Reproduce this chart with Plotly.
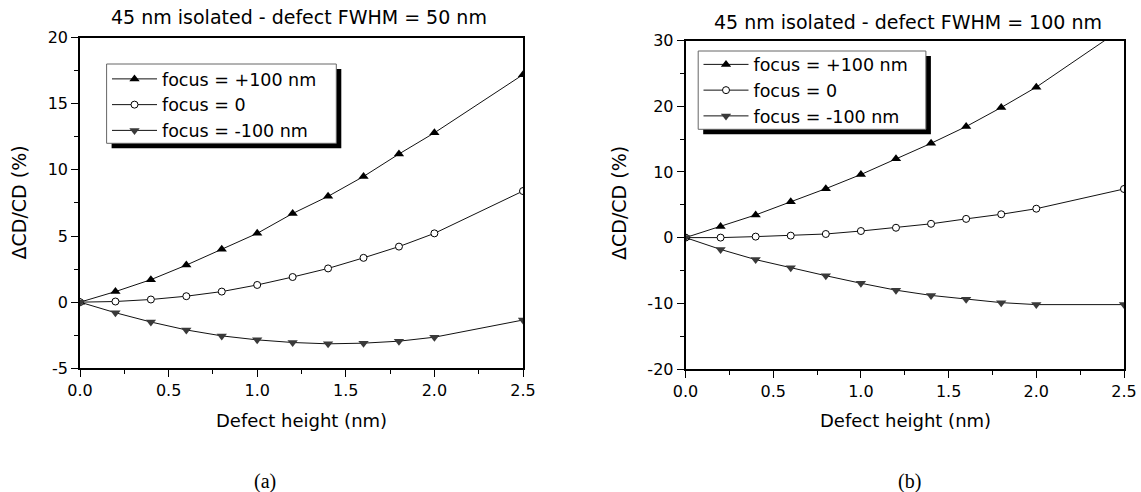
import plotly.graph_objects as go

# ---------------- data ----------------
heights = [0.0, 0.2, 0.4, 0.6, 0.8, 1.0, 1.2, 1.4, 1.6, 1.8, 2.0, 2.5]

a_plus = [0, 0.8, 1.7, 2.8, 4.0, 5.2, 6.7, 8.0, 9.5, 11.2, 12.8, 17.2]
a_zero = [0, 0.05, 0.2, 0.45, 0.8, 1.3, 1.9, 2.55, 3.35, 4.2, 5.2, 8.4]
a_minus = [0, -0.8, -1.5, -2.1, -2.55, -2.85, -3.05, -3.15, -3.1, -2.95, -2.65, -1.35]

b_plus = [0, 1.7, 3.45, 5.45, 7.45, 9.6, 12.0, 14.35, 16.9, 19.8, 22.9, 32.0]
b_zero = [0, 0.0, 0.15, 0.3, 0.55, 1.0, 1.5, 2.1, 2.85, 3.55, 4.4, 7.4]
b_minus = [0, -1.8, -3.35, -4.6, -5.8, -6.95, -8.0, -8.8, -9.4, -9.9, -10.2, -10.2]

series_names = ["focus = +100 nm", "focus = 0", "focus = -100 nm"]

x_tickvals = [0.0, 0.5, 1.0, 1.5, 2.0, 2.5]
x_ticktext = ["0.0", "0.5", "1.0", "1.5", "2.0", "2.5"]
ya_tickvals = [-5, 0, 5, 10, 15, 20]
ya_ticktext = ["-5", "0", "5", "10", "15", "20"]
yb_tickvals = [-20, -10, 0, 10, 20, 30]
yb_ticktext = ["-20", "-10", "0", "10", "20", "30"]

titles = ["45 nm isolated - defect FWHM = 50 nm", "45 nm isolated - defect FWHM = 100 nm"]
x_title = "Defect height (nm)"
y_title = "\u0394CD/CD (%)"
panel_labels = ["(a)", "(b)"]

# ---------------- figure ----------------
W, H = 1141, 492
SANS = "DejaVu Sans"
DOWN_COLOR = "#3a3a3a"

def px(x):
    return x / W

def py(y):
    return 1 - y / H

styles = [
    dict(symbol="triangle-up", size=9, color="black", line=dict(color="black", width=0)),
    dict(symbol="circle", size=7, color="white", line=dict(color="black", width=1)),
    dict(symbol="triangle-down", size=9, color=DOWN_COLOR, line=dict(color=DOWN_COLOR, width=0)),
]

fig = go.Figure()
for panel, (ys, xa, ya, lg) in enumerate([
    ([a_plus, a_zero, a_minus], "x", "y", "legend"),
    ([b_plus, b_zero, b_minus], "x2", "y2", "legend2"),
]):
    for name, yv, st in zip(series_names, ys, styles):
        fig.add_trace(go.Scatter(
            x=heights, y=yv, name=name, mode="lines+markers",
            line=dict(color="#111111", width=1),
            marker=st, xaxis=xa, yaxis=ya, legend=lg,
        ))

axis_common = dict(
    showgrid=False, zeroline=False, showline=True, linecolor="black", linewidth=1.6,
    mirror=True, ticks="outside", ticklen=7, tickwidth=1.2, tickcolor="black",
    tickfont=dict(family=SANS, size=16, color="black"), automargin=False,
)

legend_font = dict(family=SANS, size=17.5, color="black")

fig.update_layout(
    width=W, height=H, margin=dict(l=0, r=0, t=0, b=0),
    paper_bgcolor="white", plot_bgcolor="white", showlegend=True,
    xaxis=dict(domain=[px(80), px(523)], range=[0, 2.5], anchor="y",
               tickvals=x_tickvals, ticktext=x_ticktext,
               minor=dict(ticks="outside", ticklen=4, dtick=0.25, tickcolor="black", tickwidth=1),
               **axis_common),
    yaxis=dict(domain=[py(368.3), py(37.6)], range=[-5, 20], anchor="x",
               tickvals=ya_tickvals, ticktext=ya_ticktext,
               minor=dict(ticks="outside", ticklen=4, dtick=2.5, tickcolor="black", tickwidth=1),
               **axis_common),
    xaxis2=dict(domain=[px(685.5), px(1124)], range=[0, 2.5], anchor="y2",
                tickvals=x_tickvals, ticktext=x_ticktext,
                minor=dict(ticks="outside", ticklen=4, dtick=0.25, tickcolor="black", tickwidth=1),
                **axis_common),
    yaxis2=dict(domain=[py(369), py(40.5)], range=[-20, 30], anchor="x2",
                tickvals=yb_tickvals, ticktext=yb_ticktext,
                minor=dict(ticks="outside", ticklen=4, dtick=5, tickcolor="black", tickwidth=1),
                **axis_common),
    legend=dict(x=px(107), y=py(61), xanchor="left", yanchor="top",
                bgcolor="rgba(0,0,0,0)", borderwidth=0, itemwidth=45, tracegroupgap=0,
                font=legend_font),
    legend2=dict(x=px(698.5), y=py(46.5), xanchor="left", yanchor="top",
                 bgcolor="rgba(0,0,0,0)", borderwidth=0, itemwidth=45, tracegroupgap=0,
                 font=legend_font),
)

# legend boxes with drop shadows
for (x0, y0, x1, y1) in [(106.6, 64, 336.3, 143.3), (698.2, 51, 925.9, 129.3)]:
    fig.add_shape(type="rect", xref="paper", yref="paper",
                  x0=px(x0 + 5), y0=py(y0 + 5), x1=px(x1 + 5), y1=py(y1 + 5),
                  fillcolor="black", line=dict(width=0), layer="above")
    fig.add_shape(type="rect", xref="paper", yref="paper",
                  x0=px(x0), y0=py(y0), x1=px(x1), y1=py(y1),
                  fillcolor="white", line=dict(color="#666666", width=1), layer="above")

def ann(text, x, y, size, family=SANS, angle=0):
    fig.add_annotation(text=text, x=px(x), y=py(y), xref="paper", yref="paper",
                       xanchor="center", yanchor="middle", showarrow=False, textangle=angle,
                       font=dict(family=family, size=size, color="black"))

ann(titles[0], 299, 17.5, 19)
ann(titles[1], 908, 21.7, 19)
ann(x_title, 301.5, 420.7, 18)
ann(x_title, 905, 420.7, 18)
ann(y_title, 18, 202.5, 19, angle=-90)
ann(y_title, 619, 203, 19, angle=-90)
ann(panel_labels[0], 265, 481.7, 20, family="Liberation Serif")
ann(panel_labels[1], 910, 481.7, 20, family="Liberation Serif")

fig.write_html("out.html")
